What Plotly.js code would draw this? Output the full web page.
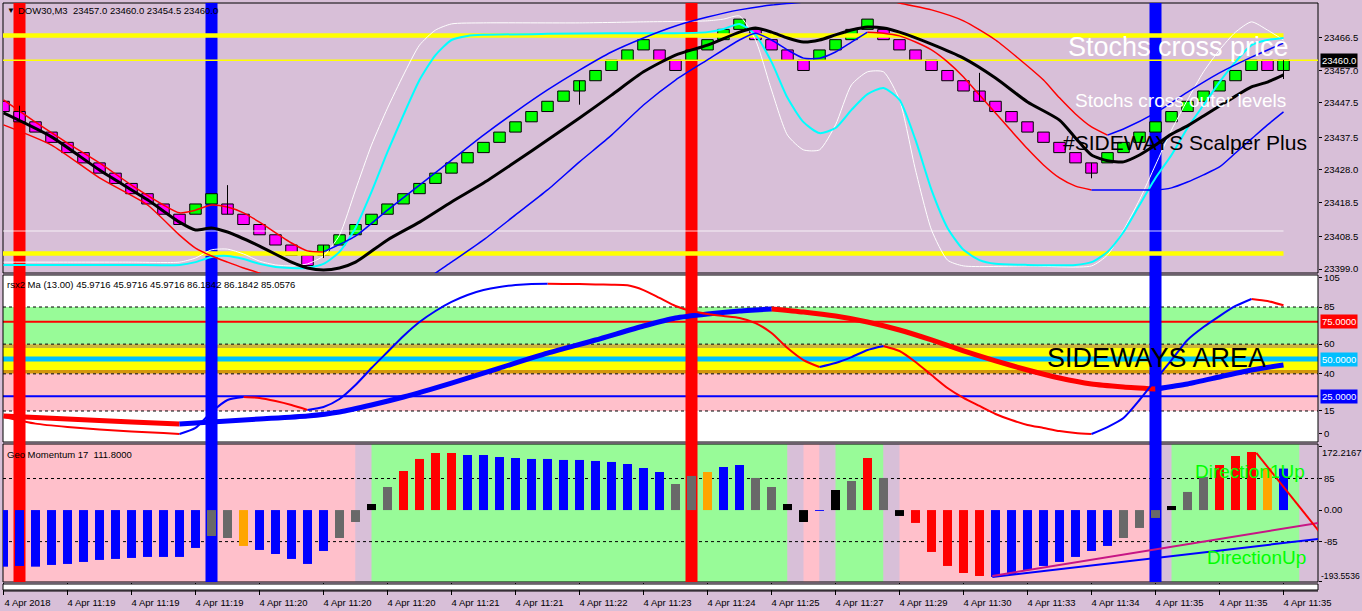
<!DOCTYPE html>
<html>
<head>
<meta charset="utf-8">
<script src="https://cdn.plot.ly/plotly-3.0.1.min.js"></script>
<style>
html,body{margin:0;padding:0;background:#D8BFD8;overflow:hidden;}
#chart{width:1362px;height:611px;}
</style>
</head>
<body>
<div id="chart"></div>
<script>
// ======================= DATA =======================
const symbol = 'DOW30,M3';
const xTickIdx = [0,4,8,12,16,20,24,28,32,36,40,44,48,52,56,60,64,68,72,76,80];
const xTickText = ['4 Apr 2018','4 Apr 11:19','4 Apr 11:19','4 Apr 11:19','4 Apr 11:20','4 Apr 11:20','4 Apr 11:20',
  '4 Apr 11:21','4 Apr 11:21','4 Apr 11:22','4 Apr 11:23','4 Apr 11:24','4 Apr 11:25','4 Apr 11:27','4 Apr 11:29',
  '4 Apr 11:30','4 Apr 11:33','4 Apr 11:34','4 Apr 11:35','4 Apr 11:35','4 Apr 11:35'];

// Candles (price panel)
const candleOpen = [23448,23445,23442,23439,23436,23433,23430,23427,23424,23421,23418,23415,
  23415,23418,
  23418,23415,23412,23409,23406,23403,
  23403,23406,23409,23412,23415,23418,23421,23424,23427,23430,23433,23436,23439,23442,23445,23448,23451,23454,23457,23460,23463,
  23463,23460,
  23460,23463,23466,23469,
  23469,23466,23463,23460,
  23460,23463,23466,23469,
  23469,23466,23463,23460,23457,23454,23451,23448,23445,23442,23439,23436,23433,23430,
  23430,23433,23436,23439,23442,23445,23448,23451,23454,23457,
  23460,
  23457];
const candleClose = [23445,23442,23439,23436,23433,23430,23427,23424,23421,23418,23415,23412,
  23418,23421,
  23415,23412,23409,23406,23403,23400,
  23406,23409,23412,23415,23418,23421,23424,23427,23430,23433,23436,23439,23442,23445,23448,23451,23454,23457,23460,23463,23466,
  23460,23457,
  23463,23466,23469,23472,
  23466,23463,23460,23457,
  23463,23466,23469,23472,
  23466,23463,23460,23457,23454,23451,23448,23445,23442,23439,23436,23433,23430,23427,
  23433,23436,23439,23442,23445,23448,23451,23454,23457,23460,
  23457,
  23460];
const wickIdx  = [1,14,20,36,61,68,80];
const wickHigh = [23446.7,23423.5,23406,23454,23456.3,23430,23460];
const wickLow  = [23442,23415,23402.2,23447,23448,23425.5,23454.5];

// Moving average (black)
const maIdx = [0,3,6,9,11,12,13,14,16,18,19,20,21,22,24,26,28,30,32,34,36,38,40,42,44,46,47,48,49,50,51,52,53,54,55,56,58,60,62,64,66,67,68,69,70,71,72,73,74,75,76,77,78,79,80];
const maVal = [23444.6,23437.6,23427.9,23419.2,23412.7,23410.4,23411.0,23409.8,23405.7,23401.0,23399.3,23398.7,23399.3,23401.0,
  23407.5,23412.7,23418.6,23424.1,23430.3,23436.7,23443.1,23449.8,23456.6,23461.5,23464.4,23468.2,23469.4,23468.2,23466.5,23465.3,
  23465.9,23467.4,23468.8,23469.7,23469.4,23468.2,23464.7,23460.6,23454.8,23447.8,23442.5,23437.3,23432.3,23430.6,23430.3,23432.3,
  23435.2,23438.4,23440.8,23443.7,23446.6,23449.5,23452.2,23453.6,23455.7];

// Envelope bands, coloured segments (falling = red, rising = blue)
const upperRedAIdx = [0,2,4,6,8,10,11,12,13,14,15,16,18,19,20];
const upperRedAVal = [23448.4,23441.9,23435.8,23430.0,23423.5,23417.7,23415.4,23416.2,23417.7,23417.1,23415.4,23412.7,23406.6,23404.3,23404.0];
const upperBlueAIdx = [20,22,24,26,28,30,32,34,36,38,40,42,44,46,48,50,52];
const upperBlueAVal = [23404.0,23408.6,23416.2,23423.5,23430.8,23438.1,23444.9,23451.3,23457.1,23462.4,23466.5,23470.0,23472.6,23474.7,23476.1,23477.0,23478.5];
const upperRedBIdx = [55,56,58,60,62,64,65,66,67,68,69];
const upperRedBVal = [23478.2,23476.7,23474.7,23471.5,23465.9,23458.3,23454.2,23449.0,23444.3,23440.5,23438.1];
const upperBlueBIdx = [69,70,72,74,76,78,80];
const upperBlueBVal = [23438.1,23439.9,23444.6,23450.7,23456.3,23460.9,23465.0];
const lowerRedAIdx = [0,3,6,9,11,12,13,14,15,16,17];
const lowerRedAVal = [23441.1,23435.2,23425.6,23417.7,23408.9,23405.1,23402.8,23401.0,23399.3,23397.8,23395.8];
const lowerBlueAIdx = [26,27,28,30,32,34,36,38,40,42,44,46,47,48,49,50,51,52,53,54];
const lowerBlueAVal = [23394.3,23397.8,23401.0,23407.5,23414.8,23422.1,23430.3,23438.1,23446.9,23454.2,23460.1,23465.9,23467.9,23465.9,23463.0,23460.6,23460.6,23462.4,23465.3,23468.2];
const lowerRedBIdx = [54,55,56,57,58,59,60,61,62,63,64,65,66,67,68];
const lowerRedBVal = [23468.2,23467.9,23467.1,23465.3,23463.0,23459.5,23455.1,23449.8,23444.6,23439.3,23434.1,23429.4,23425.6,23423.2,23422.1];
const lowerBlueBIdx = [68,70,72,73,74,75,76,77,78,79,80];
const lowerBlueBVal = [23422.1,23422.1,23422.1,23422.7,23424.4,23426.5,23428.8,23432.9,23437.0,23441.1,23444.9];

// Stochastic-style lines drawn on price scale
const cyanIdx = [0,4,8,11,12,13,14,15,16,17,18,19,20,21,22,23,24,25,26,27,28,29,30,34,38,42,44,45,46,47,48,49,50,51,52,53,54,55,56,57,58,59,60,61,62,64,67,68,69,70,71,72,73,74,75,76,77,78,79,80];
const cyanVal = [23400.2,23400.2,23400.2,23400.2,23401.0,23402.5,23402.8,23401.9,23400.5,23399.6,23399.3,23399.3,23400.5,23404.0,
  23411.0,23421.5,23433.2,23444.0,23454.2,23461.5,23465.9,23467.1,23467.4,23467.7,23467.9,23467.9,23468.2,23469.1,23470.6,23467.4,
  23459.5,23449.0,23441.9,23438.7,23440.2,23445.5,23450.1,23451.9,23448.4,23436.7,23422.1,23411.0,23404.6,23401.6,23400.5,23400.2,
  23400.2,23401.0,23404.0,23409.8,23417.7,23425.6,23432.3,23440.2,23446.9,23453.6,23459.5,23464.4,23465.9,23466.5];
const whiteIdx = [0,4,8,11,12,13,14,15,16,17,18,19,20,21,22,23,24,25,26,27,28,30,36,40,44,45,46,47,48,49,50,51,52,53,54,55,56,57,58,59,60,64,68,69,70,71,72,73,74,75,76,77,78,79,80];
const whiteVal = [23401.0,23401.0,23401.0,23401.0,23402.2,23404.6,23404.8,23403.4,23401.3,23400.2,23399.9,23400.5,23402.8,23408.9,
  23422.1,23435.2,23446.0,23455.7,23464.4,23468.8,23470.6,23470.9,23470.9,23471.2,23471.5,23472.0,23472.9,23465.9,23451.3,23438.1,
  23433.8,23433.8,23441.1,23452.8,23456.6,23456.6,23448.4,23427.9,23410.4,23401.6,23399.9,23399.9,23399.9,23403.1,23410.4,23419.2,
  23429.4,23439.6,23448.4,23456.6,23463.0,23468.2,23471.2,23468.8,23465.9];

// Horizontal price levels
const yellowThickLevels = [23467.2, 23403.5];
const yellowThinLevels = [23460.0];
const guideLevel = 23410.1;
const priceTicks = [23466.5,23457.0,23447.5,23437.5,23428.0,23418.5,23408.5,23399.0];

// Signal columns (vertical bars)
const signalIdx = [1,13,43,72];
const signalType = ['sell','buy','sell','buy'];

// rsx2 panel
const rsxFastIdx = [0,2,4,6,8,10,11,12,13,14,15,16,17,18,19,20,21,22,23,24,25,26,27,28,29,30,31,32,33,34,35,36,37,38,39,40,
  41,42,43,44,45,46,47,48,49,50,51,52,53,54,55,56,57,58,59,60,61,62,63,64,65,66,67,68,69,70,71,72,73,74,75,76,77,78,79,80];
const rsxFastVal = [11.0,6.5,4.2,2.5,1.2,0.2,-0.5,3.6,14.3,22.4,24.4,23.8,21.7,19.0,15.7,17.7,23.1,32.5,43.9,54.7,65.5,74.9,82.3,
  88.4,93.1,96.4,98.5,99.8,100.5,100.6,100.5,100.4,100.2,100.0,99.6,96.4,91.1,85.7,82.3,80.3,78.9,77.6,74.2,67.5,57.4,49.3,44.6,
  47.3,51.3,56.1,58.8,55.4,48.0,39.2,30.5,23.8,18.4,13.0,8.9,5.6,3.6,1.5,0.2,-0.5,4.2,10.3,22.4,35.9,49.3,62.8,71.5,78.9,85.7,
  90.4,89.0,86.1842];
const rsxSlowIdx = [0,4,8,11,13,16,19,21,23,25,28,31,34,37,40,42,44,46,47,48,50,52,54,56,58,60,62,64,66,68,70,72,74,76,78,80];
const rsxSlowVal = [11.6,9.6,7.6,6.2,7.6,9.6,11.6,14.3,19.0,24.4,33.8,43.9,54.0,62.8,72.2,77.6,80.3,82.3,83.0,83.7,81.6,78.9,74.9,
  69.5,62.8,55.4,48.7,42.6,37.2,33.2,31.2,29.8,33.2,37.9,42.6,45.9716];
const rsxLegendVals = ['45.9716','45.9716','45.9716','86.1842','86.1842','85.0576'];
const rsxDashed = [85,60,40,15];
const rsxUpper = 75, rsxMid = 50, rsxLower = 25;
const rsxTicks = [105,85,60,40,15,0];

// Geo Momentum panel
const momValue = [-152.5,-150.6,-152.5,-147.9,-145.2,-139.8,-134.4,-131.7,-129.0,-126.3,-126.3,-126.3,-102.1,
  -69.8,-75.2,-96.7,
  -107.5,-118.3,-131.7,-145.2,-110.2,
  -75.2,-32.1,16.4,62.2,
  105.3,137.7,153.8,153.8,
  148.4,148.4,143.0,140.3,137.7,137.7,135.0,135.0,132.3,129.6,124.2,113.4,102.6,
  70.3,91.9,102.6,116.1,121.5,86.5,62.2,16.4,-32.1,-2.4,54.1,78.4,140.3,86.5,-15.9,
  -34.7,-112.9,-150.6,-169.5,-177.6,
  -180.3,-172.2,-161.4,-150.6,-139.8,-126.3,-110.2,-96.7,
  -75.2,-48.2,-21.3,
  11.0,48.8,89.2,121.5,145.7,156.5,113.4,111.8];
const momState = ('BBBBBBBBBBBBB'+'GGO'+'BBBBB'+'GGKG'+'RRRR'+'BBBBBBBBBBBBB'+'GGOBBGGKKBKGRGK'+'RRRRR'+'BBBBBBBB'+'GGG'+'KGGRRROB').split('');
const momLevels = [85,-85];
const momMax = 172.2167, momMin = -193.5536;
const momTicks = [momMax,85,0,-85,momMin];
const momTickText = ['','85','0.00','-85',''];
const zoneStart = [-1,22,23,49,50,51,52,55,56,72,73,81];
const zoneEnd   = [22,23,49,50,51,52,55,56,72,73,81,90];
const zoneState = ['dn','flat','up','flat','dn','flat','up','flat','dn','flat','up','flat'];
const trendRedX = [78.3,82.2],  trendRedY = [154,-56];
const trendPinkX = [61.8,82.2], trendPinkY = [-177.5,-34.7];
const trendBlueX = [61.8,82.2], trendBlueY = [-180.3,-77.8];

// ======================= LAYOUT GEOMETRY =======================
const L = 3, R = 1318, T = 3, B = 582;
const px2x = p => (p - L) / (R - L);
const py2y = p => (B - p) / (B - T);
const xRange = [(L - 3.5) / 16, (R - 3.5) / 16];
const dom = { top: [py2y(273), 1], mid: [py2y(442), py2y(275)], bot: [0, py2y(444)] };
const topRange = [23397.83, 23476.71];
const midRange = [-5.87, 106.54];
const botRange = [-193.8, 178];

const C = { bg:'#D8BFD8', up:'#00FF00', dn:'#FF00FF', red:'#FF0000', blue:'#0000FF', cyan:'#00FFFF',
  green:'#98FB98', pink:'#FFC0CB', yellow:'#FFFF00', sky:'#00BFFF', gray:'#696969', orange:'#FFA500' };
const FONT = 'Liberation Sans, Arial, sans-serif';
const barIdx = candleOpen.map((_, i) => i);

// ======================= TRACES =======================
const traces = [];
function line(x, y, color, width, axis, extra) {
  traces.push(Object.assign({ type:'scatter', mode:'lines', x, y, yaxis:axis, xaxis:'x',
    line:{ color, width, shape:'spline', smoothing:0.6 }, hoverinfo:'skip' }, extra || {}));
}
// price panel
line([xRange[0], 80], [guideLevel, guideLevel], '#FFFFFF', 1, 'y', { opacity:0.8, line:{ color:'#FFFFFF', width:1 } });
yellowThickLevels.forEach(v => line([xRange[0], 80], [v, v], C.yellow, 4.5, 'y', { line:{ color:C.yellow, width:4.5 } }));
yellowThinLevels.forEach(v => line([xRange[0], xRange[1]], [v, v], C.yellow, 1.5, 'y', { line:{ color:C.yellow, width:1.5 } }));
line(whiteIdx, whiteVal, '#FFFFFF', 1, 'y');
line(cyanIdx, cyanVal, C.cyan, 2, 'y');
line(lowerRedAIdx, lowerRedAVal, C.red, 1.5, 'y');
line(lowerBlueAIdx, lowerBlueAVal, C.blue, 1.5, 'y');
line(lowerRedBIdx, lowerRedBVal, C.red, 1.5, 'y');
line(lowerBlueBIdx, lowerBlueBVal, C.blue, 1.5, 'y');
line(upperRedAIdx, upperRedAVal, C.red, 1.5, 'y');
line(upperBlueAIdx, upperBlueAVal, C.blue, 1.5, 'y');
line(upperRedBIdx, upperRedBVal, C.red, 1.5, 'y');
line(upperBlueBIdx, upperBlueBVal, C.blue, 1.5, 'y');
line(maIdx, maVal, '#000000', 3, 'y');
// wicks
const wx = [], wy = [];
wickIdx.forEach((k, j) => { wx.push(k, k, null); wy.push(wickLow[j], wickHigh[j], null); });
traces.push({ type:'scatter', mode:'lines', x:wx, y:wy, yaxis:'y', line:{ color:'#000', width:1 }, hoverinfo:'skip' });
// candle bodies
traces.push({ type:'bar', x:barIdx, base:candleOpen, y:candleClose.map((c, i) => c - candleOpen[i]), yaxis:'y', width:0.72,
  marker:{ color:candleClose.map((c, i) => c > candleOpen[i] ? C.up : C.dn), line:{ color:'#000', width:1 } }, hoverinfo:'skip' });

// rsx panel: colour by direction
function splitDir(xs, ys) {
  const up = { x:[], y:[] }, dn = { x:[], y:[] };
  let last = 'dn';
  for (let k = 0; k < xs.length - 1; k++) {
    const d = ys[k + 1] > ys[k] ? 'up' : (ys[k + 1] < ys[k] ? 'dn' : last);
    last = d;
    const t = d === 'up' ? up : dn;
    const n = t.x.length;
    if (n === 0 || t.x[n - 1] !== xs[k]) {
      if (n) { t.x.push(null); t.y.push(null); }
      t.x.push(xs[k]); t.y.push(ys[k]);
    }
    t.x.push(xs[k + 1]); t.y.push(ys[k + 1]);
  }
  return { up, dn };
}
const slow = splitDir(rsxSlowIdx, rsxSlowVal);
const fast = splitDir(rsxFastIdx, rsxFastVal);
line(slow.dn.x, slow.dn.y, C.red, 5, 'y2');
line(slow.up.x, slow.up.y, C.blue, 5, 'y2');
line(fast.dn.x, fast.dn.y, C.red, 2, 'y2');
line(fast.up.x, fast.up.y, C.blue, 2, 'y2');

// momentum panel
const momColorMap = { B:C.blue, G:C.gray, O:C.orange, R:C.red, K:'#000000' };
traces.push({ type:'bar', x:barIdx, y:momValue, yaxis:'y3', width:0.56,
  marker:{ color:momState.map(s => momColorMap[s]), line:{ width:0 } }, hoverinfo:'skip' });
line(trendBlueX, trendBlueY, C.blue, 2, 'y3', { line:{ color:C.blue, width:2 } });
line(trendPinkX, trendPinkY, '#C71585', 2, 'y3', { line:{ color:'#C71585', width:2 } });
line(trendRedX, trendRedY, C.red, 2, 'y3', { line:{ color:C.red, width:2 } });

// ======================= SHAPES =======================
const shapes = [];
const rect = (o) => shapes.push(Object.assign({ type:'rect', layer:'below', line:{ width:0 } }, o));
rect({ xref:'paper', yref:'paper', x0:0, x1:1, y0:dom.mid[0], y1:dom.mid[1], fillcolor:'#FFFFFF' });
[[60,85,C.green],[57.4,60,'#C9B53C'],[42.6,57.4,C.yellow],[40,42.6,'#D4960C'],[15,40,C.pink]].forEach(z =>
  rect({ xref:'paper', yref:'y2', x0:0, x1:1, y0:z[0], y1:z[1], fillcolor:z[2] }));
const zoneColor = { dn:C.pink, flat:C.bg, up:C.green };
zoneState.forEach((s, k) => rect({ xref:'x', yref:'paper',
  x0:Math.max(zoneStart[k], xRange[0]), x1:Math.min(zoneEnd[k], xRange[1]), y0:dom.bot[0], y1:dom.bot[1], fillcolor:zoneColor[s] }));
rsxDashed.forEach(v => shapes.push({ type:'line', layer:'below', xref:'paper', yref:'y2', x0:0, x1:1, y0:v, y1:v, line:{ color:'#000', width:1, dash:'3px,3px' } }));
momLevels.forEach(v => shapes.push({ type:'line', layer:'below', xref:'paper', yref:'y3', x0:0, x1:1, y0:v, y1:v, line:{ color:'#000', width:1, dash:'3px,3px' } }));
shapes.push({ type:'line', layer:'below', xref:'paper', yref:'y2', x0:0, x1:1, y0:rsxUpper, y1:rsxUpper, line:{ color:C.red, width:2 } });
shapes.push({ type:'line', layer:'below', xref:'paper', yref:'y2', x0:0, x1:1, y0:rsxLower, y1:rsxLower, line:{ color:C.blue, width:2 } });
shapes.push({ type:'line', layer:'below', xref:'paper', yref:'y2', x0:0, x1:1, y0:rsxMid, y1:rsxMid, line:{ color:C.sky, width:5 } });
[dom.top, dom.mid, dom.bot].forEach(d => shapes.push({ type:'rect', layer:'below', xref:'paper', yref:'paper', x0:0, x1:1, y0:d[0], y1:d[1], line:{ color:'#000', width:1 }, fillcolor:'rgba(0,0,0,0)' }));
signalIdx.forEach((k, j) => rect({ xref:'x', yref:'paper', x0:k - 0.375, x1:k + 0.375, y0:0, y1:1,
  fillcolor:signalType[j] === 'buy' ? C.blue : C.red }));
shapes.push({ type:'rect', layer:'above', xref:'paper', yref:'paper', x0:0, x1:1, y0:py2y(590), y1:py2y(584), fillcolor:'#FFFFFF', line:{ color:'#000', width:1 } });
shapes.push({ type:'line', layer:'above', xref:'paper', yref:'paper', x0:0, x1:1, y0:py2y(591), y1:py2y(591), line:{ color:'#000', width:1 } });

// ======================= ANNOTATIONS =======================
const ann = [];
const txt = (text, xpx, ypx, size, color, extra) => ann.push(Object.assign({ text, xref:'paper', yref:'paper',
  x:px2x(xpx), y:py2y(ypx), xanchor:'left', yanchor:'middle', showarrow:false,
  font:{ family:FONT, size, color } }, extra || {}));
const lastK = candleOpen.length - 1;
const lastHigh = wickHigh[wickIdx.indexOf(lastK)], lastLow = wickLow[wickIdx.indexOf(lastK)];
txt('▼', 5, 10, 8, '#000');
txt(symbol + '  ' + [candleOpen[lastK], lastHigh, lastLow, candleClose[lastK]].map(v => v.toFixed(1)).join(' '), 16, 10, 9.5, '#000');
txt('Stochs cross price', 1066, 47, 27, '#FFFFFF');
txt('Stochs cross outer levels', 1073, 100, 19, '#FFFFFF');
txt('#SIDEWAYS Scalper Plus', 1061, 142, 21, '#000');
txt('SIDEWAYS AREA', 1045, 358, 27, '#000');
txt('Direction1Up', 1193, 471, 19, '#00FF00');
txt('DirectionUp', 1205, 557, 19, '#00FF00');
txt('rsx2 Ma (13.00) ' + rsxLegendVals.join(' '), 5, 284, 9.5, '#000');
txt('Geo Momentum 17  ' + momValue[lastK].toFixed(4), 5, 454, 9.5, '#000');
// extreme labels of the momentum scale (placed inside the panel height, as in the terminal)
txt(momMax.toFixed(4), 1321, 452, 9.5, '#000', { borderpad:0 });
txt(momMin.toFixed(4), 1320, 576, 8.6, '#000', { borderpad:0 });
const axisBox = (yref, y, text, bg) => ann.push({ text, xref:'paper', yref, x:1, y, xanchor:'left', yanchor:'middle', xshift:2,
  showarrow:false, bgcolor:bg, borderpad:1, font:{ family:FONT, size:9.5, color:'#FFFFFF' } });
axisBox('y', candleClose[lastK], candleClose[lastK].toFixed(1), '#000000');
axisBox('y2', rsxUpper, rsxUpper.toFixed(4), C.red);
axisBox('y2', rsxMid, rsxMid.toFixed(4), C.sky);
axisBox('y2', rsxLower, rsxLower.toFixed(4), C.blue);

// ======================= LAYOUT =======================
const yCommon = { side:'right', anchor:'x', tickmode:'array', ticks:'outside', ticklen:3, tickcolor:'#000',
  showgrid:false, zeroline:false, showline:false, automargin:false, tickfont:{ family:FONT, size:9.5, color:'#000' } };
const layout = {
  width:1362, height:611,
  margin:{ l:L, r:1362 - R, t:T, b:611 - B, pad:0 },
  paper_bgcolor:C.bg, plot_bgcolor:C.bg,
  showlegend:false, hovermode:false, barmode:'overlay',
  font:{ family:FONT, size:9.5, color:'#000' },
  xaxis:{ domain:[0,1], anchor:'y3', range:xRange, tickmode:'array', tickvals:xTickIdx, ticktext:xTickText,
    ticks:'outside', ticklen:12, tickcolor:'#000', showgrid:false, zeroline:false, showline:false, automargin:false,
    ticklabelshift:24, tickfont:{ family:FONT, size:9.5, color:'#000' } },
  yaxis:Object.assign({}, yCommon, { domain:dom.top, range:topRange, tickvals:priceTicks, ticktext:priceTicks.map(v => v.toFixed(1)) }),
  yaxis2:Object.assign({}, yCommon, { domain:dom.mid, range:midRange, tickvals:rsxTicks, ticktext:rsxTicks.map(String) }),
  yaxis3:Object.assign({}, yCommon, { domain:dom.bot, range:botRange, tickvals:momTicks, ticktext:momTickText }),
  shapes, annotations:ann
};
Plotly.newPlot('chart', traces, layout, { staticPlot:true, displayModeBar:false });
</script>
</body>
</html>
